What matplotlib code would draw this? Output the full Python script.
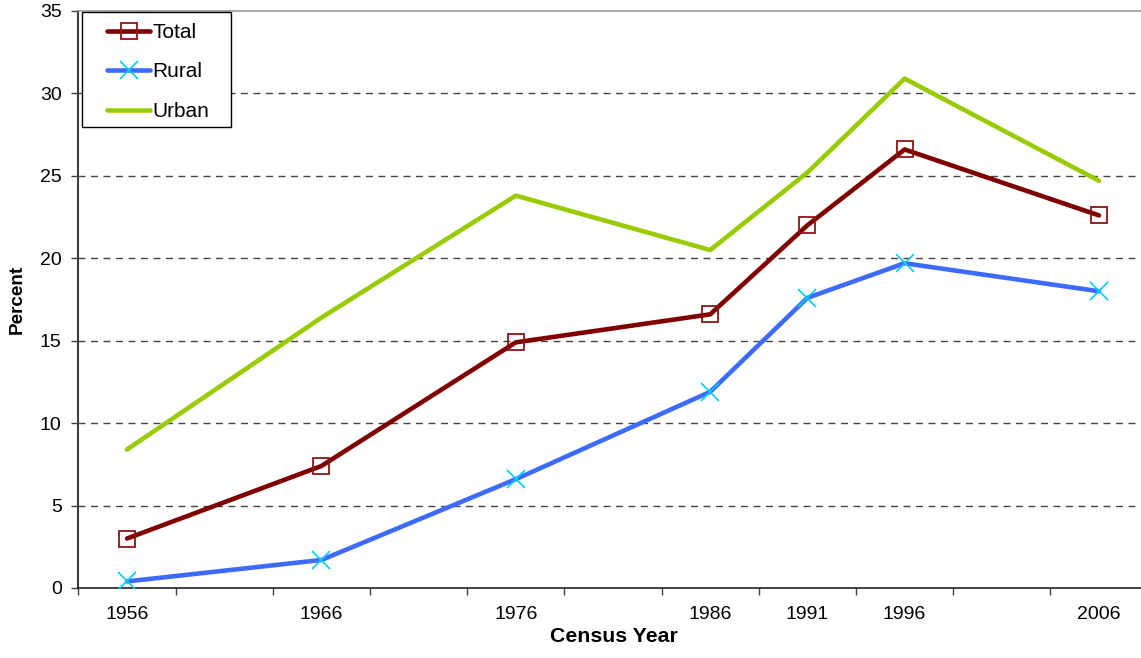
import matplotlib
matplotlib.use("Agg")
import matplotlib.pyplot as plt
from matplotlib.patches import Rectangle
from matplotlib.ticker import FixedLocator, NullFormatter

# Census years and percent values per series
years = [1956, 1966, 1976, 1986, 1991, 1996, 2006]
total = [3.0, 7.4, 14.9, 16.6, 22.0, 26.6, 22.6]
rural = [0.4, 1.7, 6.6, 11.9, 17.6, 19.7, 18.0]
urban = [8.4, 16.4, 23.8, 20.5, 25.2, 30.9, 24.7]
y_ticks = [0, 5, 10, 15, 20, 25, 30, 35]

plt.rcParams["font.family"] = ["Liberation Sans", "DejaVu Sans"]

W, H = 1141, 658
fig = plt.figure(figsize=(W / 100, H / 100), dpi=100)

x0, x1 = 1953.5, 2008.5
left_px, right_px = 78.4, 1147.6
top_px, bottom_px = 11, 588
ax = fig.add_axes([left_px / W, 1 - bottom_px / H,
                   (right_px - left_px) / W, (bottom_px - top_px) / H])

ax.plot(years, total, color="#800000", lw=3.3, marker="s", ms=11.5,
        mfc="none", mec="#8B1515", mew=1.3, label="Total", zorder=4,
        solid_capstyle="round", solid_joinstyle="round")
ax.plot(years, rural, color="#3D6BFF", lw=3.3, marker="x", ms=13,
        mec="#00CCFF", mew=1.2, label="Rural", zorder=3,
        solid_capstyle="round", solid_joinstyle="round")
ax.plot(years, urban, color="#99CC00", lw=3.3, label="Urban", zorder=2,
        solid_capstyle="round", solid_joinstyle="round")

ax.set_xlim(x0, x1)
ax.set_ylim(0, 35)

# y axis
ax.set_yticks(y_ticks)
ax.tick_params(axis="y", direction="out", length=5, width=1, color="#404040",
               labelsize=14, pad=7)
for y in y_ticks[1:-1]:
    ax.axhline(y, color="#444444", lw=1.0, dashes=(5, 4), zorder=1)

# x axis: labels at census years, tick marks between 5-year bins
ax.set_xticks(years)
ax.set_xticklabels([str(y) for y in years])
ax.tick_params(axis="x", which="major", length=0, labelsize=14, pad=13)
minor = [x0 + 5 * i for i in range(12)]
ax.xaxis.set_minor_locator(FixedLocator(minor))
ax.xaxis.set_minor_formatter(NullFormatter())
ax.tick_params(axis="x", which="minor", direction="out", length=5, width=1,
               color="#404040")

ax.spines["left"].set_color("#404040")
ax.spines["left"].set_linewidth(1.5)
ax.spines["bottom"].set_color("#202020")
ax.spines["bottom"].set_linewidth(1.2)
ax.spines["top"].set_color("#999999")
ax.spines["top"].set_linewidth(1.2)
ax.spines["right"].set_visible(False)

fig.text(17 / W, 1 - 299 / H, "Percent", rotation=90, ha="center",
         va="center", fontsize=13.6, fontweight="bold")
fig.text(614 / W, 1 - 642 / H, "Census Year", ha="center", va="baseline",
         fontsize=15.3, fontweight="bold")

# legend box with entries placed inside it
ax.add_patch(Rectangle((82 / W, 1 - 127 / H), (231 - 82) / W,
                       (127 - 12) / H, transform=fig.transFigure,
                       facecolor="white", edgecolor="black", lw=1.0,
                       zorder=5, clip_on=False))
leg = ax.legend(loc="upper left", bbox_to_anchor=(107 / W, 1 - 23 / H),
                bbox_transform=fig.transFigure, fontsize=15,
                frameon=False, handlelength=2.07, handletextpad=0.12,
                labelspacing=0.98, borderpad=0, borderaxespad=0)
leg.set_zorder(6)

fig.savefig("out.png", dpi=100)
